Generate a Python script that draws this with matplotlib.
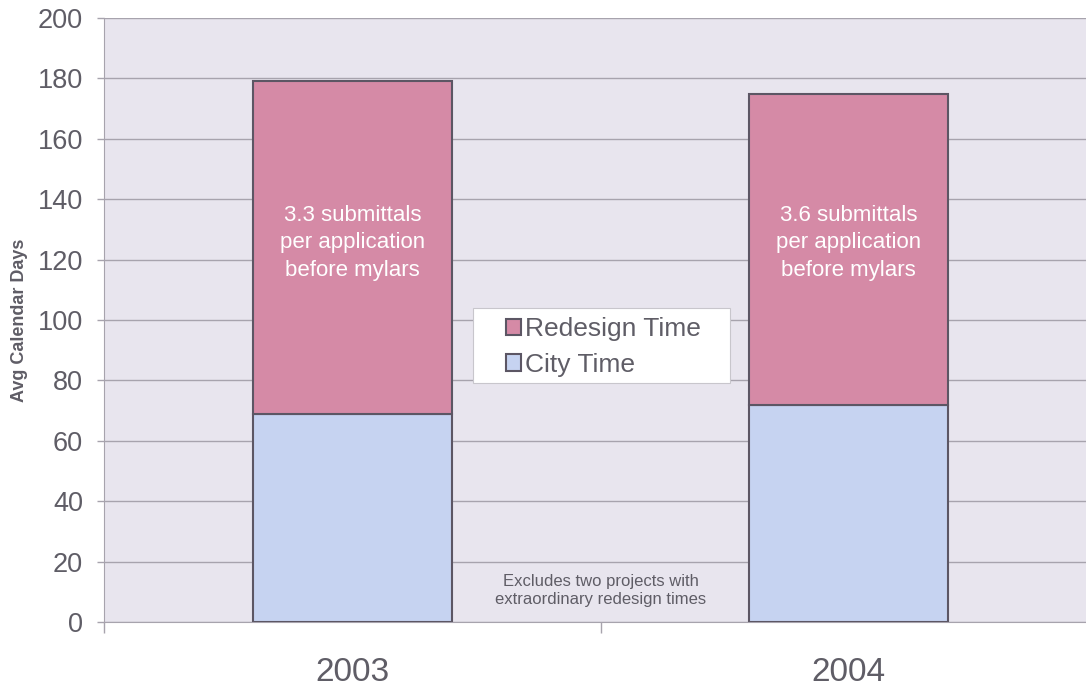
import matplotlib.pyplot as plt
from matplotlib.patches import Rectangle
import numpy as np

# Average calendar days per application, split into city review and redesign
years = ['2003', '2004']
city_time = [69, 72]
redesign_time = [110, 103]
submittals = [3.3, 3.6]

plt.rcParams['font.family'] = ['Liberation Sans', 'DejaVu Sans']

text_gray = '#5f5d66'
grid_gray = '#a7a3ad'
edge_col = '#5c5664'
city_col = '#c6d3f1'
redesign_col = '#d58aa6'

fig = plt.figure(figsize=(10.86, 6.86), dpi=100)
ax = fig.add_axes([104 / 1086, 64 / 686, 993 / 1086, 604 / 686])
ax.set_facecolor('#e8e5ee')

x = np.arange(len(years))
width = 0.4
ax.bar(x, city_time, width, color=city_col, edgecolor=edge_col, linewidth=1.5,
       label='City Time', zorder=3)
ax.bar(x, redesign_time, width, bottom=city_time, color=redesign_col,
       edgecolor=edge_col, linewidth=1.5, label='Redesign Time', zorder=3)

# submittal notes inside the redesign segments
for xi, n in zip(x, submittals):
    ax.text(xi, 138.1, f'{n} submittals\nper application\nbefore mylars',
            ha='center', va='top', color='white', fontsize=16,
            linespacing=1.4, zorder=4)

ax.text(0.5, 10.4, 'Excludes two projects with\nextraordinary redesign times',
        ha='center', va='center', color=text_gray, fontsize=12,
        linespacing=1.3, zorder=4)

ax.set_ylim(0, 200)
ax.set_xlim(-0.5, 1.5)
ax.set_yticks(np.arange(0, 201, 20))
ax.yaxis.grid(True, color=grid_gray, linewidth=1.0, zorder=0)
ax.set_axisbelow(True)

ax.set_xticks(x)
ax.set_xticklabels(years)
ax.set_xticks([-0.5, 0.5], minor=True)
ax.tick_params(axis='x', which='major', length=0, pad=25, labelsize=24,
               labelcolor=text_gray)
ax.tick_params(axis='x', which='minor', length=8, color=grid_gray, width=1)
ax.tick_params(axis='y', length=5, color=grid_gray, width=1, pad=10,
               labelsize=19.5, labelcolor=text_gray)

ax.set_ylabel('Avg Calendar Days', fontsize=13, fontweight='bold',
              color=text_gray, labelpad=7)

for side in ['top', 'right']:
    ax.spines[side].set_visible(False)
ax.spines['left'].set_color(grid_gray)
ax.spines['bottom'].set_color(grid_gray)

# legend box drawn separately so its side padding can be wider than the rows
box = Rectangle((0.3716, 0.3957), 0.2588, 0.1242, transform=ax.transAxes,
                facecolor='white', edgecolor='#c8c6cc', linewidth=0.8, zorder=5)
ax.add_patch(box)

handles, labels = ax.get_legend_handles_labels()
leg = ax.legend(handles[::-1], labels[::-1], loc='center',
                bbox_to_anchor=(0.503, 0.455), fontsize=19, frameon=False,
                handlelength=0.6, handleheight=0.6, handletextpad=0.15,
                borderpad=0.0, labelspacing=0.45, labelcolor=text_gray)
leg.set_zorder(6)

fig.savefig('out.png', dpi=100, facecolor='white')
